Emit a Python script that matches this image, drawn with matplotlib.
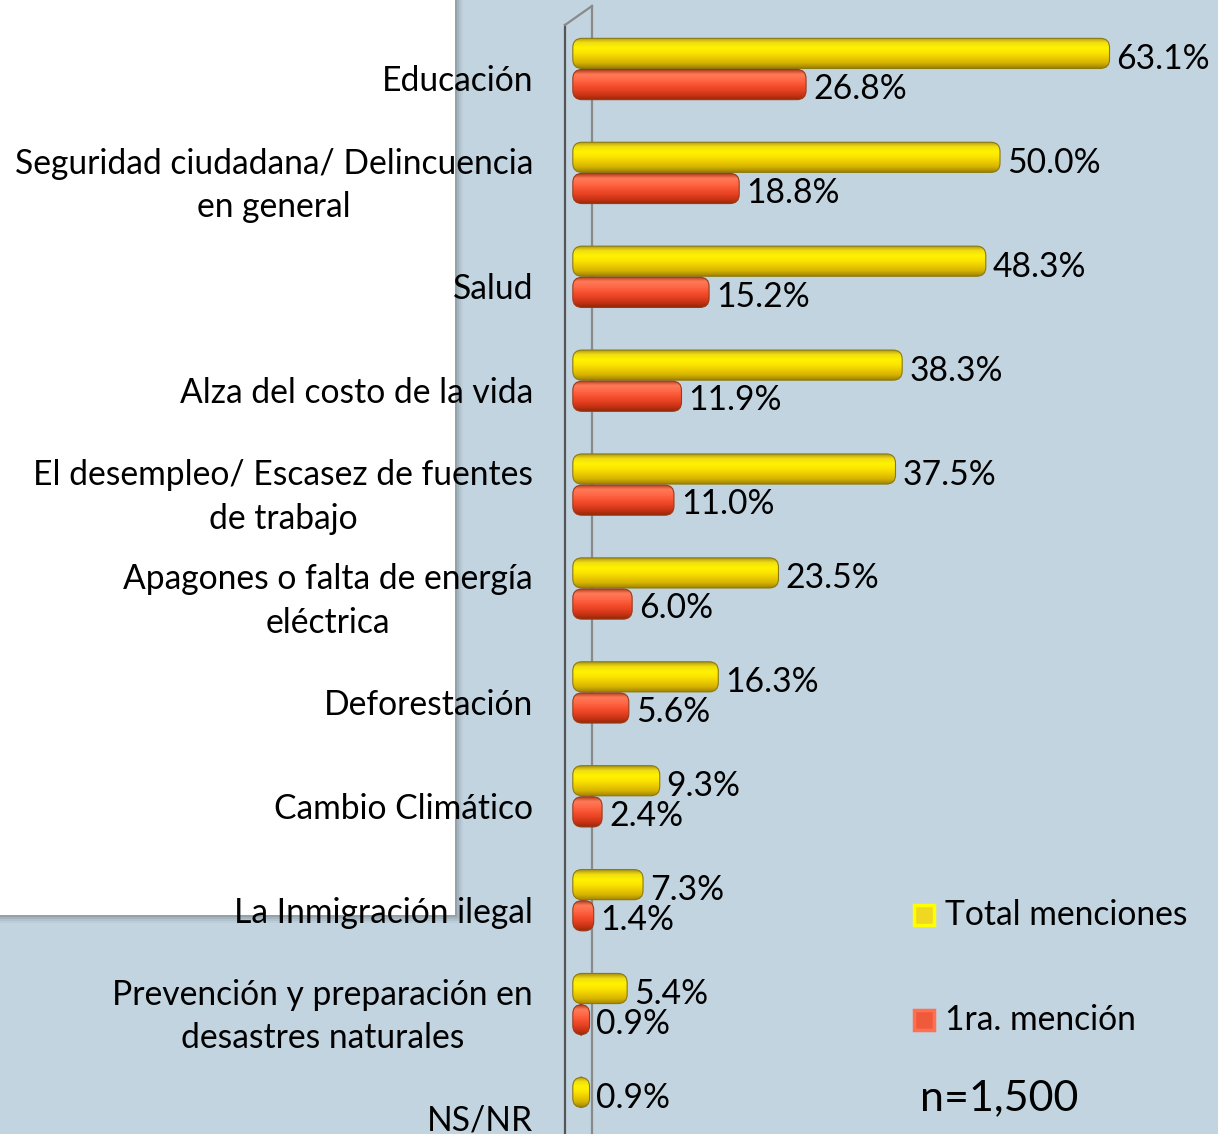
import matplotlib
matplotlib.use("Agg")
import matplotlib.pyplot as plt
import numpy as np
from matplotlib.patches import FancyBboxPatch, Rectangle
from matplotlib.colors import to_rgb
from matplotlib.lines import Line2D

categories = [
    "Educación",
    "Seguridad ciudadana/ Delincuencia\nen general",
    "Salud",
    "Alza del costo de la vida",
    "El desempleo/ Escasez de fuentes\nde trabajo",
    "Apagones o falta de energía\neléctrica",
    "Deforestación",
    "Cambio Climático",
    "La Inmigración ilegal",
    "Prevención y preparación en\ndesastres naturales",
    "NS/NR",
]
total_menciones = [63.1, 50.0, 48.3, 38.3, 37.5, 23.5, 16.3, 9.3, 7.3, 5.4, 0.9]
primera_mencion = [26.8, 18.8, 15.2, 11.9, 11.0, 6.0, 5.6, 2.4, 1.4, 0.9, None]
legend_labels = ["Total menciones", "1ra. mención"]
sample_text = "n=1,500"

FONT = ["Lato", "DejaVu Sans"]
plt.rcParams["font.family"] = FONT
FS = 24.2

W, H = 1218, 1134
BG = "#c2d4e0"
fig = plt.figure(figsize=(W / 100, H / 100), dpi=100, facecolor=BG)

def fx(px):
    return px / W

def fy(py):
    return 1 - py / H

ax = fig.add_axes([0, 0, 1, 1])
ax.patch.set_visible(False)
for s in ax.spines.values():
    s.set_visible(False)
ax.set_xticks([])
ax.set_yticks([])

# white slide panel with shadow (figure pixel coords), drawn inside axes below text
for i, a in enumerate([0.10, 0.07, 0.05, 0.03]):
    ax.add_patch(Rectangle((0, fy(915 + 2 + i * 2)), fx(455 + 2 + i * 2), 1 - fy(915 + 2 + i * 2),
                           transform=fig.transFigure, facecolor="black", alpha=a,
                           edgecolor="none", zorder=0))
ax.add_patch(Rectangle((0, fy(915)), fx(455), 1 - fy(915), transform=fig.transFigure,
                       facecolor="white", edgecolor="none", zorder=0.5))

PX_PER_X = 8.36
PX_PER_Y = 103.9
X0 = 582
Y0 = 69
xlim = (-X0 / PX_PER_X, (W - X0) / PX_PER_X)
ylim = ((H - Y0) / PX_PER_Y, -Y0 / PX_PER_Y)

# back wall lines
ax.add_line(Line2D([fx(565), fx(565)], [fy(25), 0], transform=fig.transFigure, color="#555555", lw=1.6, zorder=1))
ax.add_line(Line2D([fx(592), fx(592)], [fy(6), 0], transform=fig.transFigure, color="#8a8a8a", lw=1.6, zorder=1))
ax.add_line(Line2D([fx(565), fx(592)], [fy(25), fy(6)], transform=fig.transFigure, color="#8a8a8a", lw=1.6, zorder=1))

n = len(categories)
idx = np.arange(n)
bar_h = 0.29
off = 0.15
depth = 1.1

def grad_colors(kind):
    if kind == "y":
        stops = ["#a08c10", "#f0dc10", "#fff200", "#fbe600", "#eccc00", "#d6b400", "#a08400"]
    else:
        stops = ["#a83818", "#ff7a58", "#ff6a48", "#f85434", "#e84424", "#cc3416", "#982808"]
    pos = np.linspace(0, 1, len(stops))
    t = np.linspace(0, 1, 64)
    cols = np.array([to_rgb(c) for c in stops])
    arr = np.stack([np.interp(t, pos, cols[:, k]) for k in range(3)], axis=1)
    return arr[:, None, :]

def draw_bars(ypos, vals, kind, edge):
    ys = [y for y, v in zip(ypos, vals) if v is not None]
    vs = [v for v in vals if v is not None]
    bars = ax.barh(ys, [v + depth for v in vs], left=-depth, height=bar_h, alpha=0)
    img = grad_colors(kind)
    for b in bars:
        x, y, w, h = b.get_x(), b.get_y(), b.get_width(), b.get_height()
        p = FancyBboxPatch((x, y), w, h, boxstyle="round,pad=0,rounding_size=1.1",
                           mutation_aspect=PX_PER_X / PX_PER_Y,
                           facecolor="none", edgecolor=edge, lw=0.8, zorder=4)
        ax.add_patch(p)
        im = ax.imshow(img, extent=(x, x + w, y + h, y), origin="upper", aspect="auto",
                       zorder=3, interpolation="bilinear")
        im.set_clip_path(p)
    return bars

bars_t = draw_bars(idx - off, total_menciones, "y", "#8a7a10")
bars_r = draw_bars(idx + off, primera_mencion, "r", "#9a3a18")

for y, v in zip(idx - off, total_menciones):
    ax.annotate(f"{v:.1f}%", (v, y), xytext=(5, -4), textcoords="offset points",
                ha="left", va="center", fontsize=FS, color="black", zorder=5)
for y, v in zip(idx + off, primera_mencion):
    if v is None:
        continue
    ax.annotate(f"{v:.1f}%", (v, y), xytext=(5, -3), textcoords="offset points",
                ha="left", va="center", fontsize=FS, color="black", zorder=5)

label_x = (533 - X0) / PX_PER_X
for i, c in enumerate(categories):
    ax.text(label_x, i + 0.12, c, ha="right", va="center", multialignment="center",
            fontsize=FS, linespacing=1.44, color="black", zorder=5)

ax.set_xlim(*xlim)
ax.set_ylim(*ylim)

# legend
ax.add_patch(Rectangle((fx(914), fy(925)), fx(20), 20 / H, transform=fig.transFigure,
                       facecolor="#f0d820", edgecolor="#ffff00", lw=2.5, zorder=5))
ax.add_patch(Rectangle((fx(914), fy(1030)), fx(20), 20 / H, transform=fig.transFigure,
                       facecolor="#f05a3c", edgecolor="#ff7050", lw=2.5, zorder=5))
fig.text(fx(945), fy(915), legend_labels[0], ha="left", va="center", fontsize=FS)
fig.text(fx(945), fy(1020), legend_labels[1], ha="left", va="center", fontsize=FS)
fig.text(fx(920), fy(1098), sample_text, ha="left", va="center", fontsize=31)

fig.savefig("out.png", dpi=100, facecolor=BG)
